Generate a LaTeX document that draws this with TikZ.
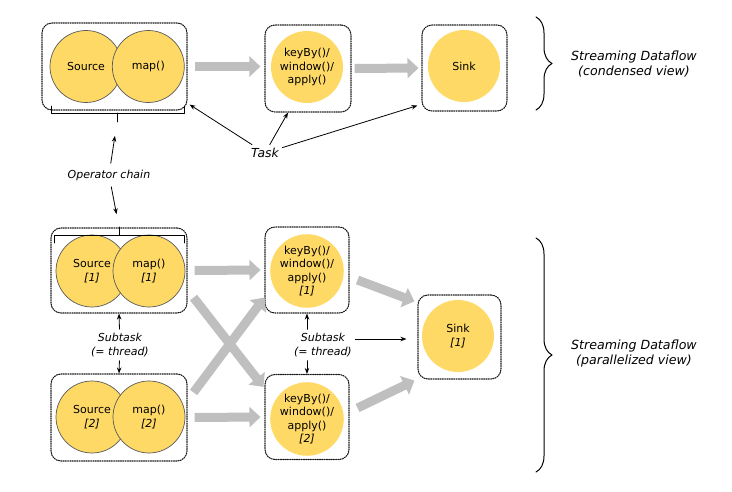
\documentclass[tikz,border=0pt]{standalone}
\usepackage{fontspec}
\setmainfont{DejaVu Sans}
\usepackage{tikz}
\usetikzlibrary{arrows.meta,decorations.pathreplacing,calc}
\definecolor{opyellow}{HTML}{FFD966}
\definecolor{flowgray}{HTML}{BFBFBF}

\begin{document}
\begin{tikzpicture}[line cap=round,line join=round,x=1pt,y=1pt,
    font=\fontsize{11}{13.5}\selectfont,
    taskbox/.style={draw=black!90,line width=1.1pt,dash pattern=on 1.1pt off 1.2pt,rounded corners=10pt,inner sep=0pt},
    chainop/.style={circle,fill=opyellow,draw=black!65,line width=0.7pt,minimum size=72pt,inner sep=0pt,align=center},
    plainop/.style={circle,fill=opyellow,minimum size=72pt,inner sep=0pt,align=center},
    flow/.style={color=flowgray,line width=9pt,line cap=butt,-{Triangle[length=11pt,width=20pt]}},
    callout/.style={-{Stealth[length=6pt,width=4.5pt]},line width=0.8pt},
    remark/.style={font=\fontsize{11}{14.5}\selectfont\itshape,align=center}]
                \useasboundingbox (0,0) rectangle (732,-492);
                \node[taskbox,minimum width=145,minimum height=87] (chain) at (114.5,-66.5) {};
                \node[taskbox,minimum width=86,minimum height=87] (kwa) at (308,-68.5) {};
                \node[taskbox,minimum width=85,minimum height=86] (snk) at (464.5,-68) {};
                \node[taskbox,minimum width=136,minimum height=85] (chain1) at (119,-270.5) {};
                \node[taskbox,minimum width=136,minimum height=87] (chain2) at (119,-417.5) {};
                \node[taskbox,minimum width=84,minimum height=86] (kwa1) at (307,-270) {};
                \node[taskbox,minimum width=84,minimum height=85] (kwa2) at (307,-417) {};
                \node[taskbox,minimum width=83,minimum height=84] (snk1) at (459.5,-337) {};
                \node[chainop] (src) at (86,-66.5) {Source};
                \node[chainop] (map) at (148.3,-66.5) {map()};
                \node[plainop] (kw) at (307,-67) {keyBy()/\\window()/\\apply()};
                \node[plainop] (sink) at (464,-66) {Sink};
                \node[chainop] (src1) at (92,-271) {Source\\\textit{[1]}};
                \node[chainop] (map1) at (149,-271) {map()\\\textit{[1]}};
                \node[chainop] (src2) at (92,-417) {Source\\\textit{[2]}};
                \node[chainop] (map2) at (149,-417) {map()\\\textit{[2]}};
                \node[plainop] (kw1) at (307,-271) {keyBy()/\\window()/\\apply()\\\textit{[1]}};
                \node[plainop] (kw2) at (307,-419) {keyBy()/\\window()/\\apply()\\\textit{[2]}};
                \node[plainop] (sink1) at (458,-336) {Sink\\\textit{[1]}};
                \draw[flow] ([xshift=7]chain.east) -- ([xshift=-4]kwa.west |- chain.east);
                \draw[flow] ([xshift=3]kwa.east) -- ([xshift=-3]snk.west);
                \draw[flow] ([xshift=7]chain1.east) -- ([xshift=-4]kwa1.west);
                \draw[flow] ([xshift=7]chain2.east) -- ([xshift=-4]kwa2.west);
                \draw[flow] ([shift={(6,16)}]chain1.south east) -- ([shift={(-1,-13)}]kwa2.north west);
                \draw[flow] ([shift={(6,-19)}]chain2.north east) -- ([shift={(0,16)}]kwa1.south west);
                \draw[flow] ([shift={(8,-10)}]kwa1.east) -- ([shift={(-3,-7)}]snk1.north west);
                \draw[flow] ([shift={(8,9)}]kwa2.east) -- ([shift={(-3,-1)}]snk1.south west);
                \coordinate (chaintip) at (117,-122);
                \coordinate (chain1tip) at (119,-227);
                \draw[line width=0.9pt] (51,-106) -- (51,-113) -- (184,-113) -- (184,-106) (117,-113) -- (chaintip);
                \draw[line width=0.9pt] (54,-243) -- (54,-235) -- (184,-235) -- (184,-243) (119,-235) -- (chain1tip);
                \draw[decorate,decoration={brace,amplitude=16pt},line width=1pt] (536,-17) -- (536,-110);
                \draw[decorate,decoration={brace,amplitude=16pt},line width=1pt] (536,-238) -- (536,-472);
                \node[remark,font=\fontsize{12.6}{15}\selectfont\itshape] (condensed) at (634,-64) {Streaming Dataflow\\(condensed view)};
                \node[remark,font=\fontsize{12.6}{15}\selectfont\itshape] (parallel) at (634,-354) {Streaming Dataflow\\(parallelized view)};
                \node[remark,font=\fontsize{12.4}{15}\selectfont\itshape] (task) at (265,-153) {Task};
                \node[remark] (opchain) at (109,-175) {Operator chain};
                \node[remark] (subtaskL) at (120,-345) {Subtask\\(= thread)};
                \node[remark] (subtaskM) at (323,-345) {Subtask\\(= thread)};
                \draw[callout] (task) -- ([shift={(2,6)}]chain.south east);
                \draw[callout] (task) -- ([xshift=-20]kwa.south);
                \draw[callout] (task) -- ([shift={(-4,6)}]snk.south west);
                \draw[callout,shorten <=3pt,shorten >=14pt] (opchain) -- (chaintip);
                \draw[callout,shorten <=3pt,shorten >=13pt] (opchain) -- (chain1tip);
                \draw[callout] (subtaskL) -- (chain1.south);
                \draw[callout] (subtaskL) -- (chain2.north);
                \draw[callout] (subtaskM.north -| kwa1.south) -- (kwa1.south);
                \draw[callout] (subtaskM.south -| kwa2.north) -- (kwa2.north);
                \draw[callout] ([yshift=6]subtaskM.east) -- ([shift={(-11,-2)}]snk1.west);
\end{tikzpicture}
\end{document}
